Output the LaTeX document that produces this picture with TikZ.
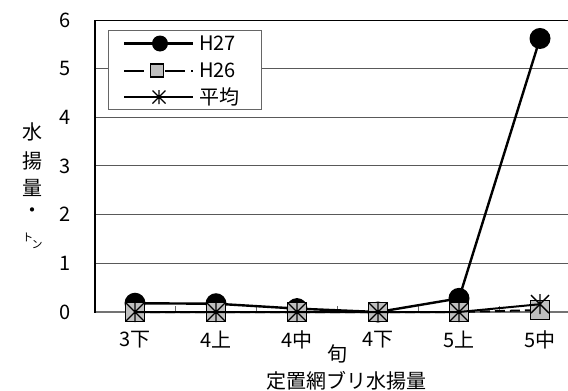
\documentclass[tikz,border=0pt]{standalone}
\usepackage{fontspec}
\setmainfont{Noto Sans CJK JP}
\begin{document}
\begin{tikzpicture}[x=1pt,y=-1pt,
  lbl/.style={font=\fontsize{20}{23}\selectfont, inner sep=0pt},
  small/.style={font=\fontsize{11}{13}\selectfont, inner sep=0pt},
  gridln/.style={draw=black!65, line width=1pt},
  ser27/.style={draw=black, line width=2.4pt},
  ser26/.style={draw=black, line width=2pt, dash pattern=on 10pt off 5pt},
  seravg/.style={draw=black, line width=2pt},
  m27/.style={circle, fill=black, minimum size=21pt, inner sep=0pt},
  m26/.style={rectangle, fill=black!25, draw=black, line width=1.2pt, minimum size=19pt, inner sep=0pt},
  l27/.style={circle, fill=black, minimum size=16pt, inner sep=0pt},
  l26/.style={rectangle, fill=black!25, draw=black, line width=1.2pt, minimum size=13pt, inner sep=0pt},
  ast/.pic={\draw[line width=1.4pt] (-9,-9)--(9,9) (-9,9)--(9,-9) (0,-10)--(0,10);},
  asts/.pic={\draw[line width=1.4pt] (-6.5,-6.5)--(6.5,6.5) (-6.5,6.5)--(6.5,-6.5) (0,-7)--(0,7);}
]
\useasboundingbox (0,0) rectangle (568,391);
% gridlines
\foreach \v in {1,...,5}{
  \draw[gridln] (95,{312-48.67*\v}) -- (568,{312-48.67*\v});
}
\draw[black, line width=1pt] (95,20) -- (568,20);
% axes
\draw[black!55, line width=1.5pt] (95,312) -- (568,312);
\foreach \x in {175.7,256.7,337.7,418.7,499.7}{
  \draw[black!60, line width=1pt] (\x,312) -- (\x,306);
}
\draw[black, line width=1.5pt] (95,20) -- (95,313);
% y tick labels
\foreach \v in {0,...,6}{
  \node[lbl, anchor=east] (y\v) at (71,{312-48.67*\v}) {\v};
}
% y title
\node[lbl] (t1) at (33,132) {水};
\node[lbl] (t2) at (33,161) {揚};
\node[lbl] (t3) at (33,188) {量};
\node[lbl] (t4) at (33,213) {・};
\node[small] (t5) at (28,237) {ト};
\node[small] (t6) at (37,245) {ン};
% x labels
\node[lbl] (c1) at (135,340) {3下};
\node[lbl] (c2) at (216,340) {4上};
\node[lbl] (c3) at (297,340) {4中};
\node[lbl] (c4) at (378,340) {4下};
\node[lbl] (c5) at (459,340) {5上};
\node[lbl] (c6) at (540,340) {5中};
\node[lbl] (xt) at (337,354) {旬};
\node[lbl] (title) at (346,381) {定置網ブリ水揚量};
% data coordinates
\coordinate (a1) at (135,{312-48.67*0.18});
\coordinate (a2) at (216,{312-48.67*0.17});
\coordinate (a3) at (297,{312-48.67*0.07});
\coordinate (a4) at (378,312);
\coordinate (a5) at (459,{312-48.67*0.28});
\coordinate (a6) at (540,{312-48.67*5.62});
\coordinate (b1) at (135,312);
\coordinate (b2) at (216,312);
\coordinate (b3) at (297,312);
\coordinate (b4) at (378,312);
\coordinate (b5) at (459,312);
\coordinate (b6) at (540,{312-48.67*0.04});
\coordinate (v1) at (135,312);
\coordinate (v2) at (216,312);
\coordinate (v3) at (297,312);
\coordinate (v4) at (378,312);
\coordinate (v5) at (459,312);
\coordinate (v6) at (540,{312-48.67*0.16});
% H27
\draw[ser27] (a1) -- (a2) -- (a3) -- (a4) -- (a5) -- (a6);
\foreach \p in {a1,a2,a3,a4,a5,a6}{ \node[m27] at (\p) {}; }
% H26
\draw[ser26] (b1) -- (b2) -- (b3) -- (b4) -- (b5) -- (b6);
\foreach \p in {b1,b2,b3,b4,b5,b6}{ \node[m26] at (\p) {}; }
% average
\draw[seravg] (v1) -- (v2) -- (v3) -- (v4) -- (v5) -- (v6);
\foreach \p in {v1,v2,v3,v4,v5,v6}{ \pic at (\p) {ast}; }
% legend
\node[draw=black!60, line width=1pt, fill=white, minimum width=153pt, minimum height=79pt, inner sep=0pt] (leg) at (184.5,70) {};
\coordinate (la1) at (124,43.5);
\coordinate (la2) at (193,43.5);
\coordinate (lb1) at (124,70.5);
\coordinate (lb2) at (193,70.5);
\coordinate (lc1) at (124,97);
\coordinate (lc2) at (193,97);
\draw[ser27] (la1) -- (la2);
\node[l27] (lm27) at (160,43.5) {};
\draw[ser26, dash pattern=on 20pt off 6pt on 9pt off 6pt] (lb1) -- (lb2);
\node[l26] (lm26) at (157,70.5) {};
\draw[seravg] (lc1) -- (lc2);
\pic at (159,97) {asts};
\node[lbl, anchor=west] (e1) at (199,43.5) {H27};
\node[lbl, anchor=west] (e2) at (199,70.5) {H26};
\node[lbl, anchor=west] (e3) at (199,97) {平均};
\end{tikzpicture}
\end{document}
